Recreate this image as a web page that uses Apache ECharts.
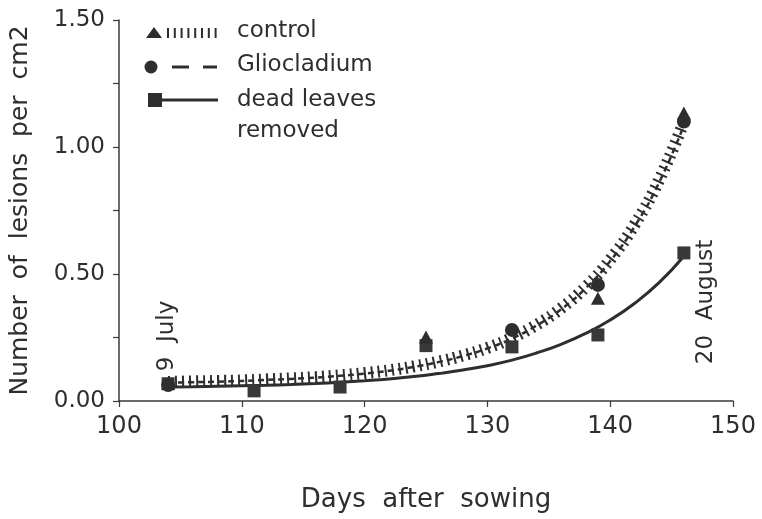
<!DOCTYPE html>
<html>
<head>
<meta charset="utf-8">
<script src="https://cdn.jsdelivr.net/npm/echarts@6/dist/echarts.min.js"></script>
<style>html,body{margin:0;padding:0;background:#fff;}#c{width:762px;height:519px;}</style>
</head>
<body>
<div id="c"></div>
<script>
// ---- data ----
var curveDays = [104,106,108,110,112,114,116,118,120,122,124,126,128,130,132,134,136,138,140,142,144,146];
var controlCurve = [0.075,0.077,0.079,0.081,0.085,0.089,0.094,0.101,0.110,0.121,0.136,0.155,0.179,0.209,0.249,0.300,0.365,0.449,0.557,0.695,0.872,1.100];
var glioCurve    = [0.072,0.074,0.076,0.079,0.083,0.087,0.092,0.099,0.108,0.119,0.134,0.153,0.177,0.207,0.246,0.297,0.361,0.444,0.551,0.688,0.862,1.085];
var deadCurve    = [0.055,0.056,0.058,0.060,0.062,0.065,0.069,0.074,0.080,0.087,0.096,0.108,0.122,0.139,0.161,0.189,0.223,0.266,0.319,0.385,0.467,0.570];

var controlDays = [104,125,139,146];
var controlObs  = [0.070,0.252,0.405,1.134];
var glioDays    = [104,132,139,146];
var glioObs     = [0.063,0.280,0.457,1.100];
var deadDays    = [104,111,118,125,132,139,146];
var deadObs     = [0.068,0.040,0.055,0.218,0.213,0.260,0.583];

var xTicks = {min:100, max:150, step:10};
var yTicks = {min:0, max:1.5, step:0.25, labelStep:0.5};

var seriesNames = ['control','Gliocladium','dead leaves','removed'];
var annotations = [{day:103.9, value:0.256, text:'9  July'},{day:147.8, value:0.39, text:'20  August'}];

function zip(a,b){return a.map(function(v,i){return [v,b[i]];});}

var FONT = 'DejaVu Sans';
var INK = '#2e2e2e';

var chart = echarts.init(document.getElementById('c'), null, {renderer:'canvas'});

var legendItems = [];
legendItems.push(
  {type:'polygon', shape:{points:[[146,38],[162,38],[154,27]]}, style:{fill:INK}},
  {type:'text', left:237, top:20, style:{text:seriesNames[0], font:'23px "'+FONT+'"', fill:INK}},
  {type:'circle', shape:{cx:151, cy:67, r:6.5}, style:{fill:INK}},
  {type:'line', shape:{x1:172,y1:67,x2:189,y2:67}, style:{stroke:INK, lineWidth:3}},
  {type:'line', shape:{x1:203,y1:67,x2:217,y2:67}, style:{stroke:INK, lineWidth:3}},
  {type:'text', left:237, top:54, style:{text:seriesNames[1], font:'23px "'+FONT+'"', fill:INK}},
  {type:'rect', shape:{x:148, y:93, width:14, height:14}, style:{fill:INK}},
  {type:'line', shape:{x1:160,y1:100,x2:218,y2:100}, style:{stroke:INK, lineWidth:3}},
  {type:'text', left:237, top:89, style:{text:seriesNames[2], font:'23px "'+FONT+'"', fill:INK}},
  {type:'text', left:237, top:120, style:{text:seriesNames[3], font:'23px "'+FONT+'"', fill:INK}}
);
for (var i=0;i<8;i++){
  legendItems.push({type:'line', shape:{x1:168+i*6.8,y1:28,x2:168+i*6.8,y2:38}, style:{stroke:INK, lineWidth:2}});
}

var option = {
  backgroundColor:'#fff',
  animation:false,
  grid:{left:117, right:29, top:20, bottom:118, containLabel:false},
  xAxis:{
    type:'value', min:xTicks.min, max:xTicks.max, interval:xTicks.step,
    name:'Days  after  sowing', nameLocation:'middle', nameGap:86,
    nameTextStyle:{fontFamily:FONT, fontSize:26, color:INK},
    axisLine:{lineStyle:{color:'#3a3a3a', width:1.5}},
    axisTick:{show:true, inside:false, length:6, lineStyle:{color:'#3a3a3a', width:1.2}},
    axisLabel:{fontFamily:FONT, fontSize:24, color:INK, margin:14},
    splitLine:{show:false}
  },
  yAxis:{
    type:'value', min:yTicks.min, max:yTicks.max, interval:yTicks.step,
    name:'Number  of  lesions  per  cm2', nameLocation:'middle', nameGap:86,
    nameTextStyle:{fontFamily:FONT, fontSize:25, color:INK},
    axisLine:{show:true, lineStyle:{color:'#3a3a3a', width:1.5}},
    axisTick:{show:true, inside:false, length:6, lineStyle:{color:'#3a3a3a', width:1.2}},
    axisLabel:{fontFamily:FONT, fontSize:23, color:INK, margin:14,
      formatter:function(v){var k=v/yTicks.labelStep; return Math.abs(k-Math.round(k))<1e-6 ? v.toFixed(2) : '';}},
    splitLine:{show:false}
  },
  graphic:legendItems,
  series:[
    {name:'dead leaves removed curve', type:'line', smooth:true, showSymbol:false, symbol:'none',
     data:zip(curveDays,deadCurve), lineStyle:{color:INK, width:3}, z:2},
    {name:'control curve', type:'line', smooth:true, showSymbol:false, symbol:'none',
     data:zip(curveDays,controlCurve), lineStyle:{color:INK, width:12, type:[2,5], cap:'butt'}, z:3},
    {name:'Gliocladium curve', type:'line', smooth:true, showSymbol:false, symbol:'none',
     data:zip(curveDays,glioCurve), lineStyle:{color:INK, width:2.5, type:[6,4]}, z:3},
    {name:'control', type:'scatter', symbol:'triangle', symbolSize:[14,13],
     data:zip(controlDays,controlObs), itemStyle:{color:INK, opacity:1}, z:5},
    {name:'Gliocladium', type:'scatter', symbol:'circle', symbolSize:14,
     data:zip(glioDays,glioObs), itemStyle:{color:INK, opacity:1}, z:6},
    {name:'dead leaves removed', type:'scatter', symbol:'rect', symbolSize:13,
     data:zip(deadDays,deadObs), itemStyle:{color:'#383838', opacity:1}, z:4},
    {name:'dates', type:'scatter', symbolSize:0, silent:true,
     itemStyle:{opacity:1},
     data:annotations.map(function(a){return {value:[a.day,a.value], label:{formatter:a.text}};}),
     label:{show:true, position:'inside', rotate:90, fontFamily:FONT, fontSize:23, color:INK, opacity:1}, z:7}
  ]
};
chart.setOption(option);
</script>
</body>
</html>
